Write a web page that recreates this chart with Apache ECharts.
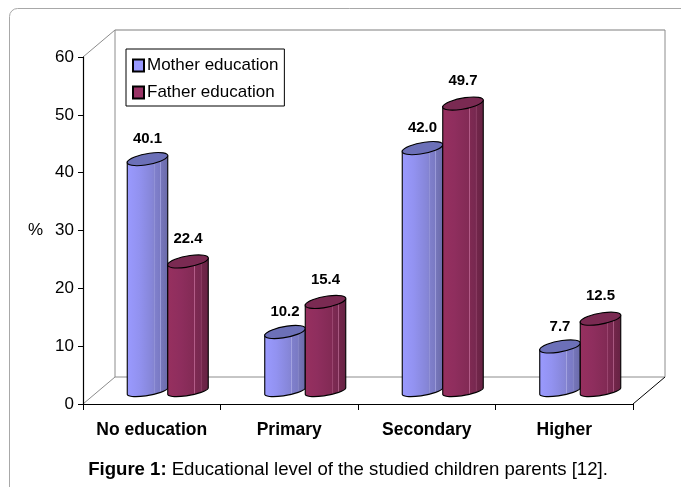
<!DOCTYPE html>
<html><head><meta charset="utf-8">
<style>html,body{margin:0;padding:0;background:#fff}#c{width:681px;height:487px}</style>
<script src="https://cdn.jsdelivr.net/npm/echarts@6/dist/echarts.min.js"></script>
</head><body><div id="c"></div>
<script>
const categories = ['No education','Primary','Secondary','Higher'];
const motherValues = [40.1,10.2,42.0,7.7];
const fatherValues = [22.4,15.4,49.7,12.5];
const valueLabels = {mother:['40.1','10.2','42.0','7.7'], father:['22.4','15.4','49.7','12.5']};
const yTicks = {min:0,max:60,interval:10};

const FONT = '"Liberation Sans", Arial, sans-serif';
const GL=83, GR=633, GT=57, GB=404, DX=32, DY=27;
const BASE_Y=13, BARW=40.5, TILT=2.9, K=0.5523;
const U=[BARW/2,-TILT], V=[-2,5.9];

function grad(stops){return {type:'linear',x:0,y:0,x2:1,y2:0,colorStops:stops.map(s=>({offset:s[0],color:s[1]}))};}
const motherFill = grad([[0,'#9a9aff'],[0.3,'#9292f0'],[0.6,'#8686d8'],[0.645,'#8484d2'],[0.66,'#aaaae4'],[0.675,'#8080cc'],[0.8,'#7a7ac4'],[0.815,'#a0a0dc'],[0.83,'#7676ba'],[1,'#6a6aa8']]);
const fatherFill = grad([[0,'#97305f'],[0.3,'#8f2e5e'],[0.6,'#842b56'],[0.645,'#822a55'],[0.66,'#c06a96'],[0.675,'#7e2a52'],[0.8,'#772850'],[0.815,'#b06088'],[0.83,'#72264a'],[1,'#652243']]);

function makeRender(fill, topFill, labels, side, labelOff){
  return function(params, api){
    const i = api.value(0), v = api.value(1);
    const zero = api.coord([i,0]), top = api.coord([i,v]);
    const split = zero[0] + 16;
    const cx = split + side*BARW/2;
    const yb = zero[1]-BASE_Y, yt = top[1]-BASE_Y;
    const ct=[cx,yt], cb=[cx,yb];
    const pt=(c,a,b)=>(c[0]+a*U[0]+b*V[0])+' '+(c[1]+a*U[1]+b*V[1]);
    const s=0.82;
    const body = `M ${pt(ct,-1,0)} L ${pt(cb,-1,0)} `+
      `C ${pt(cb,-1,K*s)} ${pt(cb,-K,s)} ${pt(cb,0,s)} C ${pt(cb,K,s)} ${pt(cb,1,K*s)} ${pt(cb,1,0)} `+
      `L ${pt(ct,1,0)} Z`;
    const lid = `M ${pt(ct,-1,0)} C ${pt(ct,-1,K)} ${pt(ct,-K,1)} ${pt(ct,0,1)} C ${pt(ct,K,1)} ${pt(ct,1,K)} ${pt(ct,1,0)} `+
      `C ${pt(ct,1,-K)} ${pt(ct,K,-1)} ${pt(ct,0,-1)} C ${pt(ct,-K,-1)} ${pt(ct,-1,-K)} ${pt(ct,-1,0)} Z`;
    return {type:'group',children:[
      {type:'path',shape:{pathData:body},style:{fill:fill,stroke:'#000',lineWidth:1.1}},
      {type:'path',shape:{pathData:lid},style:{fill:topFill,stroke:'#000',lineWidth:1.1}},
      {type:'text',style:{text:labels[i],x:cx,y:yt-labelOff,align:'center',verticalAlign:'middle',
        font:'bold 15px '+FONT,fill:'#000'}}
    ]};
  };
}

const chart = echarts.init(document.getElementById('c'),null,{renderer:'canvas'});
const wall = '#8c8c8c';
function ln(a,b,c,d,col,w){return {type:'line',silent:true,z:-1,shape:{x1:a,y1:b,x2:c,y2:d},style:{stroke:col||wall,lineWidth:w||1}};}
chart.setOption({
  animation:false,
  backgroundColor:'#fff',
  title:{text:'{b|Figure 1:} {r|Educational level of the studied children parents [12].}',
    left:348,top:460,textAlign:'center',padding:0,
    textStyle:{rich:{b:{fontFamily:FONT,fontWeight:'bold',fontSize:18.6,color:'#000'},r:{fontFamily:FONT,fontWeight:'normal',fontSize:18.6,color:'#000'}}}},
  legend:{orient:'vertical',left:126,top:49,padding:[8,6,5,6],itemGap:10,itemWidth:11,itemHeight:12,
    icon:'rect',backgroundColor:'#fff',borderColor:'#000',borderWidth:1,z:10,
    selectedMode:false,
    textStyle:{fontFamily:FONT,fontSize:17,color:'#000',padding:[0,0,0,-2]},
    data:['Mother education','Father education']},
  grid:{left:GL,right:681-GR,top:GT,bottom:487-GB},
  xAxis:{type:'category',data:categories,
    axisLine:{lineStyle:{color:'#000',width:1.2}},
    axisTick:{show:true,interval:0,alignWithLabel:false,length:6,lineStyle:{color:'#000'}},
    axisLabel:{interval:0,fontFamily:FONT,fontWeight:'bold',fontSize:17.5,color:'#000',margin:17}},
  yAxis:{type:'value',min:yTicks.min,max:yTicks.max,interval:yTicks.interval,
    name:'%',nameLocation:'middle',nameRotate:0,nameGap:40,
    nameTextStyle:{fontFamily:FONT,fontSize:17,color:'#000',padding:[3,0,0,0]},
    splitLine:{show:false},
    axisLine:{show:true,lineStyle:{color:'#000',width:1.2}},
    axisTick:{show:true,length:5,lineStyle:{color:'#000'}},
    axisLabel:{fontFamily:FONT,fontSize:17,color:'#000',margin:9}},
  graphic:{elements:[
    {type:'rect',silent:true,z:-2,shape:{x:9.5,y:8.5,width:800,height:600,r:8},style:{fill:'#fff',stroke:'#a8a8a8',lineWidth:1}},
    ln(GL+DX,GT-DY,GR+DX,GT-DY,'#a8a8a8',1.5),
    ln(GL+DX,GT-DY,GL+DX,GB-DY),
    ln(GR+DX,GT-DY,GR+DX,GB-DY),
    ln(GL+DX,GB-DY,GR+DX,GB-DY),
    ln(GL,GT,GL+DX,GT-DY),
    ln(GL,GB,GL+DX,GB-DY),
    ln(GR,GB,GR+DX,GB-DY,'#000')
  ]},
  series:[
    {name:'Mother education',type:'custom',data:motherValues.map((v,i)=>[i,v]),
      encode:{x:0,y:1},clip:false,z:3,
      itemStyle:{color:'#9999ff',borderColor:'#000',borderWidth:1},
      renderItem:makeRender(motherFill,'#6c70b8',valueLabels.mother,-1,20)},
    {name:'Father education',type:'custom',data:fatherValues.map((v,i)=>[i,v]),
      encode:{x:0,y:1},clip:false,z:4,
      itemStyle:{color:'#993366',borderColor:'#000',borderWidth:1},
      renderItem:makeRender(fatherFill,'#7a2a52',valueLabels.father,1,22.5)}
  ]
});
</script></body></html>
